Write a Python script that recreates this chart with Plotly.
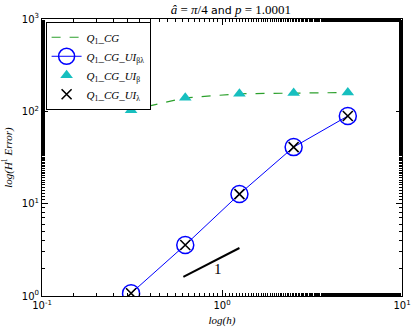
import plotly.graph_objects as go
import math

h = [0.3125, 0.625, 1.25, 2.5, 5.0]
err_cg = [103, 140, 155, 158, 160]
err_ui_bl = [1.07, 3.57, 12.7, 41, 89]
err_ui_b = [103, 140, 155, 158, 160]
err_ui_l = [1.07, 3.57, 12.7, 41, 89]
slope_x = [0.61, 1.25]
slope_y = [1.61, 3.31]
slope_label_pos = (0.95, 1.95)
x_tickvals = [0.1, 1, 10]
x_ticktext = ["10<sup>-1</sup>", "10<sup>0</sup>", "10<sup>1</sup>"]
y_tickvals = [1, 10, 100, 1000]
y_ticktext = ["10<sup>0</sup>", "10<sup>1</sup>", "10<sup>2</sup>", "10<sup>3</sup>"]

serif = "Liberation Serif"
fig = go.Figure()
fig.add_trace(go.Scatter(x=h, y=err_cg, mode="lines", name="<i>Q</i><sub>1</sub><i>_CG</i>",
                         line=dict(color="#2ca02c", dash="dash", width=1.2)))
fig.add_trace(go.Scatter(x=h, y=err_ui_bl, mode="lines+markers", name="<i>Q</i><sub>1</sub><i>_CG_UI</i><sub>βλ</sub>",
                         line=dict(color="blue", width=1),
                         marker=dict(symbol="circle-open", size=17, color="blue", line=dict(width=1.5, color="blue"))))
fig.add_trace(go.Scatter(x=h, y=err_ui_b, mode="markers", name="<i>Q</i><sub>1</sub><i>_CG_UI</i><sub>β</sub>",
                         marker=dict(symbol="triangle-up", size=11, color="#17bfbf")))
fig.add_trace(go.Scatter(x=h, y=err_ui_l, mode="markers", name="<i>Q</i><sub>1</sub><i>_CG_UI</i><sub>λ</sub>",
                         marker=dict(symbol="x-thin-open", size=10, color="black", line=dict(width=1.6, color="black"))))
fig.add_trace(go.Scatter(x=slope_x, y=slope_y, mode="lines", showlegend=False,
                         line=dict(color="black", width=2)))
fig.add_annotation(x=math.log10(slope_label_pos[0]), y=math.log10(slope_label_pos[1]), xref="x", yref="y",
                   text="1", showarrow=False, font=dict(family=serif, size=15, color="black"))

axis_common = dict(type="log", showgrid=False, zeroline=False, mirror="allticks", ticks="inside",
                   ticklen=6, tickcolor="black", showline=True, linecolor="black", linewidth=1,
                   automargin=False,
                   minor=dict(ticks="inside", ticklen=3, tickcolor="black"),
                   tickfont=dict(family="DejaVu Sans", size=10, color="black"))
fig.update_xaxes(range=[-1, 1], tickvals=x_tickvals, ticktext=x_ticktext,
                 title=dict(text="<i>log(h)</i>", font=dict(family=serif, size=11, color="black"), standoff=6),
                 **axis_common)
fig.update_yaxes(range=[0, 3], tickvals=y_tickvals, ticktext=y_ticktext,
                 title=dict(text="<i>log(H</i><sup>1</sup> <i>Error)</i>", font=dict(family=serif, size=11, color="black"), standoff=8),
                 **axis_common)

title_text = ("<i>â</i> = <i>π</i>/4 <span style='font-family:DejaVu Sans;font-size:11px'>and</span> "
              "<i>p</i> = 1.0001")
fig.update_layout(
    width=416, height=332,
    margin=dict(l=42, r=14, t=19, b=36),
    plot_bgcolor="white", paper_bgcolor="white",
    title=dict(text=title_text, x=0.555, xanchor="center", y=0.985, yanchor="top",
               font=dict(family=serif, size=13, color="black")),
    legend=dict(x=0.01, y=0.99, xanchor="left", yanchor="top", bordercolor="black", borderwidth=1,
                bgcolor="white", font=dict(family=serif, size=11, color="black"), tracegroupgap=0, itemwidth=30),
    showlegend=True,
)
fig.write_html("out.html", config={"displayModeBar": False},
               post_script="document.body.style.margin='0';document.body.style.overflow='hidden';")
